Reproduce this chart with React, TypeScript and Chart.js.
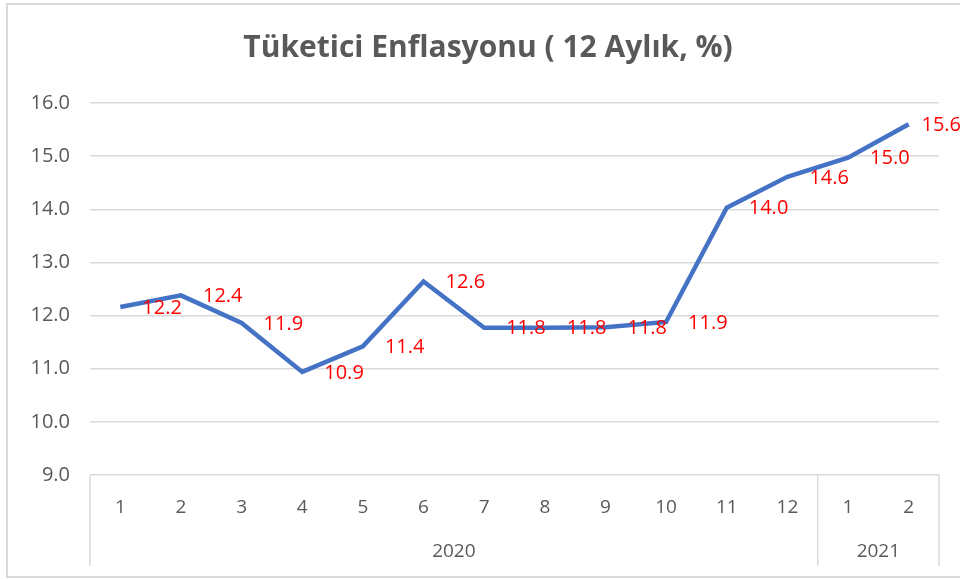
import React, { useEffect, useRef } from "react";
import { Chart, registerables } from "chart.js";

Chart.register(...registerables);

const TITLE = "Tüketici Enflasyonu ( 12 Aylık, %)";
const months = ["1", "2", "3", "4", "5", "6", "7", "8", "9", "10", "11", "12", "1", "2"];
const years = ["2020", "2021"];
const yearSpans = [12, 2];
const inflation = [12.16, 12.38, 11.86, 10.94, 11.42, 12.64, 11.77, 11.77, 11.78, 11.88, 14.03, 14.61, 14.97, 15.6];
const yMin = 9;
const yMax = 16;
const yStep = 1;

const FONT = "'Open Sans', 'Noto Sans', sans-serif";
const GRAY = "#595959";
const GRID = "#D9D9D9";

const decorPlugin = {
  id: "decor",
  beforeDraw(chart: any) {
    const ctx = chart.ctx;
    ctx.save();
    ctx.strokeStyle = GRID;
    ctx.lineWidth = 2;
    ctx.strokeRect(7, 4, 1000, 573);
    ctx.fillStyle = GRAY;
    ctx.font = `bold 30px ${FONT}`;
    ctx.textAlign = "center";
    ctx.textBaseline = "middle";
    ctx.fillText(TITLE, 488, 48);
    ctx.restore();
  },
  afterDraw(chart: any) {
    const ctx = chart.ctx;
    const x = chart.scales.x;
    const area = chart.chartArea;
    const slot = x.getPixelForValue(1) - x.getPixelForValue(0);
    ctx.save();
    ctx.strokeStyle = GRID;
    ctx.lineWidth = 1.5;
    const bottom = 566;
    let start = 0;
    const edges: number[] = [area.left];
    yearSpans.forEach((n) => {
      start += n;
      edges.push(x.getPixelForValue(start - 1) + slot / 2);
    });
    edges.forEach((e) => {
      ctx.beginPath();
      ctx.moveTo(e, area.bottom);
      ctx.lineTo(e, bottom);
      ctx.stroke();
    });
    ctx.fillStyle = GRAY;
    ctx.font = `19px ${FONT}`;
    ctx.textAlign = "center";
    ctx.textBaseline = "middle";
    years.forEach((yr, i) => {
      ctx.fillText(yr, (edges[i] + edges[i + 1]) / 2, 552);
    });
    ctx.restore();
  },
  afterDatasetsDraw(chart: any) {
    const ctx = chart.ctx;
    const meta = chart.getDatasetMeta(0);
    ctx.save();
    ctx.fillStyle = "#FF0000";
    ctx.font = `20px ${FONT}`;
    ctx.textAlign = "left";
    ctx.textBaseline = "middle";
    meta.data.forEach((pt: any, i: number) => {
      const txt = inflation[i].toFixed(1);
      const w = ctx.measureText(txt).width;
      const lx = Math.min(pt.x + 22, chart.width - w + 1);
      ctx.fillText(txt, lx, pt.y + 1);
    });
    ctx.restore();
  },
};

export default function App() {
  const ref = useRef<HTMLCanvasElement>(null);
  useEffect(() => {
    if (!ref.current) return;
    const chart = new Chart(ref.current, {
      type: "line",
      data: {
        labels: months,
        datasets: [
          {
            data: inflation,
            borderColor: "#4472C4",
            borderWidth: 4.5,
            pointRadius: 0,
            tension: 0,
            fill: false,
          },
        ],
      },
      options: {
        animation: false,
        responsive: true,
        maintainAspectRatio: false,
        layout: { padding: { top: 103, right: 21, bottom: 0, left: 0 } },
        plugins: { legend: { display: false }, title: { display: false }, tooltip: { enabled: false } },
        scales: {
          x: {
            type: "category",
            offset: true,
            grid: { display: false, drawTicks: false },
            border: { display: false },
            ticks: { color: GRAY, font: { family: FONT, size: 19 }, padding: 21, maxRotation: 0, autoSkip: false },
            afterFit: (s: any) => {
              s.height = 104;
            },
          },
          y: {
            min: yMin,
            max: yMax,
            grid: { color: GRID, lineWidth: 1.5, drawTicks: false },
            border: { display: false },
            ticks: {
              stepSize: yStep,
              color: GRAY,
              font: { family: FONT, size: 20 },
              padding: 20,
              callback: (v: any) => Number(v).toFixed(1),
            },
            afterFit: (s: any) => {
              s.width = 90;
            },
          },
        },
      },
      plugins: [decorPlugin],
    });
    return () => chart.destroy();
  }, []);
  return (
    <div style={{ position: "fixed", left: 0, top: 0, width: 960, height: 579, background: "#fff" }}>
      <canvas ref={ref} />
    </div>
  );
}
